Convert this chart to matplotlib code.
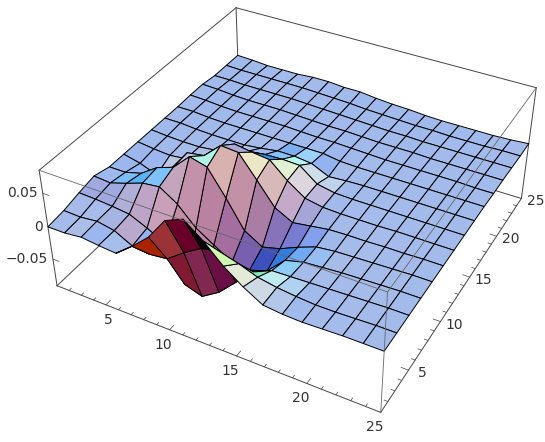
import matplotlib
matplotlib.use('Agg')
import matplotlib.pyplot as plt
import numpy as np
from mpl_toolkits.mplot3d import proj3d

ELEV, AZIM, ZOOM, BZ = 36.595, -61.567, 0.6302, 0.39825
ZMIN, ZMAX = -0.0929, 0.0831

xs = 1 + 24 * np.arange(19) / 18
ys = 1 + 24 * np.arange(15) / 14

# surface heights in thousandths, one row per y line
heights = [
    [0, 0, 3, 0, -2, 18, 41, 74, 85, 64, 38, 18, 2, -1, -2, -1, 0, 0, 0],
    [3, 2, 5, 0, -14, -17, -14, 5, 21, 26, 18, 8, 3, 0, -2, -2, -1, 0, 0],
    [9, 8, 6, 3, -9, -23, -78, -87, -70, -44, -18, -6, -5, -4, -3, -2, -1, 0, 0],
    [14, 12, 20, 29, 32, 15, -12, -29, -46, -49, -40, -14, -7, -5, -3, -2, -1, 0, 0],
    [8, 8, 15, 32, 41, 65, 58, 21, -20, -36, -29, -17, -7, -4, -3, -2, -1, 0, 0],
    [8, 2, -8, 12, 43, 47, 70, 68, 36, 3, -11, -7, -3, -2, -2, -1, -1, 0, 0],
    [8, 5, 3, 6, 15, 40, 53, 49, 46, 23, 5, 0, -1, -1, -1, 0, 0, 0, 0],
    [8, 6, 5, 5, 8, 9, 23, 26, 27, 26, 6, 1, 0, 0, 0, 0, 0, 0, 0],
    [8, 8, 6, 5, 5, 5, 8, 12, 12, 9, -3, -1, 0, 0, 0, 0, 0, 0, 0],
    [8, 8, 6, 5, 5, 5, 5, 5, 5, 5, 1, 0, 0, 0, 0, 0, 0, 0, 0],
    [9, 8, 6, 5, 5, 5, 5, 4, 3, 3, 2, 1, 0, 0, 0, 0, 0, -1, -1],
    [9, 8, 6, 5, 5, 5, 4, 3, 2, 2, 1, 0, 0, 0, -1, -1, -1, -1, -1],
    [6, 6, 5, 5, 5, 5, 4, 3, 2, 1, 0, -1, -1, -2, -2, -2, -2, -2, -2],
    [6, 5, 5, 5, 5, 5, 4, 3, 2, 0, -1, -2, -3, -3, -4, -4, -4, -3, -3],
    [6, 5, 3, 3, 3, 5, 5, 3, 3, 0, -2, -3, -5, -6, -6, -6, -6, -5, -3],
]
zz = np.array(heights) / 1000.0

x_ticks = [5, 10, 15, 20, 25]
y_ticks = [5, 10, 15, 20, 25]
z_ticks = [-0.05, 0, 0.05]
z_labels = ['\u22120.05', '0', '0.05']

cell_colors = {
    (0, 3): (165, 190, 235), (0, 4): (60, 160, 245), (0, 5): (170, 35, 0), (0, 6): (155, 50, 55),
    (0, 7): (105, 0, 40), (0, 8): (0, 0, 0), (0, 9): (205, 250, 175), (0, 10): (225, 235, 215),
    (0, 11): (205, 218, 230), (0, 12): (178, 200, 235),
    (1, 2): (165, 180, 225), (1, 3): (185, 170, 205), (1, 6): (130, 25, 50), (1, 7): (130, 40, 80),
    (1, 8): (105, 15, 70), (1, 9): (165, 20, 10), (1, 10): (130, 235, 185), (1, 11): (190, 235, 240),
    (1, 12): (175, 210, 240),
    (2, 0): (160, 170, 225), (2, 1): (160, 170, 225), (2, 2): (175, 175, 215), (2, 3): (190, 165, 200),
    (2, 4): (200, 160, 185), (2, 5): (195, 140, 165), (2, 6): (190, 135, 165), (2, 7): (170, 115, 155),
    (2, 8): (165, 110, 155), (2, 9): (40, 165, 215), (2, 10): (135, 210, 250), (2, 11): (140, 205, 250),
    (3, 1): (120, 190, 250), (3, 2): (85, 180, 250), (3, 3): (125, 195, 250), (3, 4): (195, 165, 190),
    (3, 5): (195, 145, 170), (3, 6): (185, 130, 160), (3, 7): (165, 110, 160), (3, 8): (120, 95, 175),
    (3, 9): (60, 80, 190), (3, 10): (50, 125, 225), (3, 11): (110, 170, 245), (3, 12): (150, 190, 240),
    (4, 2): (50, 160, 245), (4, 5): (175, 245, 230), (4, 6): (215, 178, 175), (4, 7): (195, 145, 165),
    (4, 8): (170, 125, 165), (4, 9): (135, 115, 185), (4, 10): (120, 125, 210), (4, 11): (130, 160, 235),
    (4, 12): (160, 185, 235),
    (5, 5): (170, 195, 235), (5, 6): (170, 170, 215), (5, 7): (235, 230, 195), (5, 8): (215, 185, 185),
    (5, 9): (195, 170, 200), (5, 10): (165, 165, 215), (5, 11): (160, 180, 230),
    (6, 6): (150, 165, 225), (6, 7): (40, 150, 240), (6, 8): (225, 240, 210), (6, 9): (220, 215, 220),
    (6, 10): (190, 185, 220),
    (7, 7): (135, 195, 250), (7, 8): (180, 245, 240), (7, 9): (205, 222, 230), (7, 10): (190, 210, 235),
    (8, 7): (125, 175, 240), (8, 8): (155, 210, 250),
}


def face_colors(Z):
    sx = 0.5 * (Z[:-1, 1:] - Z[:-1, :-1] + Z[1:, 1:] - Z[1:, :-1]) * 660
    sy = 0.5 * (Z[1:, :-1] - Z[:-1, :-1] + Z[1:, 1:] - Z[:-1, 1:]) * 660
    r = 163 + 3.0 * sx + 1.2 * sy
    g = 187 + 1.5 * sx + 0.2 * sy
    b = 235 - 1.0 * sx - 0.5 * sy
    c = np.dstack([r, g, b, 255 + 0 * r]) / 255
    for (j, i), rgb in cell_colors.items():
        c[j, i, :3] = np.array(rgb) / 255
    return np.clip(c, 0, 1)


A = 800
fig = plt.figure(figsize=(5.45, 4.42), dpi=100)
ax = fig.add_axes([-111.21 / 545, -154.29 / 442, A / 545, A / 442], projection='3d')
ax.set_xlim(1, 25)
ax.set_ylim(1, 25)
ax.set_zlim(ZMIN, ZMAX)
ax.set_proj_type('persp', focal_length=0.2861)
ax.view_init(elev=ELEV, azim=AZIM)
ax.set_box_aspect((1, 1, BZ), zoom=ZOOM)
ax.set_axis_off()
ax.computed_zorder = False
X, Y = np.meshgrid(xs, ys)
ax.plot_surface(X, Y, zz, rstride=1, cstride=1, facecolors=face_colors(zz), shade=False,
                edgecolor='k', linewidth=0.7, zorder=2)


def edge(p, q, zorder=1, color='#444444', lw=0.7):
    ax.plot([p[0], q[0]], [p[1], q[1]], [p[2], q[2]], color=color, lw=lw, zorder=zorder)


lo, hi = ZMIN, ZMAX
for p, q in [((1, 1, hi), (1, 25, hi)), ((1, 25, hi), (25, 25, hi)), ((1, 25, hi), (1, 25, lo)),
             ((25, 25, hi), (25, 25, lo)), ((1, 1, lo), (1, 25, lo)), ((1, 25, lo), (25, 25, lo)),
             ((1, 1, hi), (1, 1, lo)), ((1, 1, lo), (25, 1, lo)), ((25, 1, lo), (25, 25, lo))]:
    edge(p, q)
for p, q in [((1, 1, hi), (25, 1, hi)), ((25, 1, hi), (25, 25, hi)), ((25, 1, hi), (25, 1, lo))]:
    edge(p, q, zorder=3, color='#666666', lw=0.6)

M = ax.get_proj()


def label(txt, x, y, z, dx, dy, ha='center'):
    a, b, _ = proj3d.proj_transform(x, y, z, M)
    ax.annotate(txt, xy=(a, b), xytext=(dx, -dy), textcoords='offset pixels', ha=ha, va='center',
                fontsize=10, color='#333333', annotation_clip=False)


for t in range(2, 25):
    ln = 0.5 if t % 5 == 0 else 0.25
    edge((t, 1, lo), (t, 1 + ln, lo), lw=0.5)
    edge((25, t, lo), (25 - ln, t, lo), lw=0.5)
for t in x_ticks:
    label(str(t), t, 1, lo, 2 if t == 5 else -6, 15)
for t in y_ticks:
    label(str(t), 25, t, lo, 14, 3)
for t, s in zip(z_ticks, z_labels):
    edge((1, 1, t), (1.5, 1, t), lw=0.5)
    label(s, 1, 1, t, -5, 0, ha='right')

plt.savefig('out.png')
